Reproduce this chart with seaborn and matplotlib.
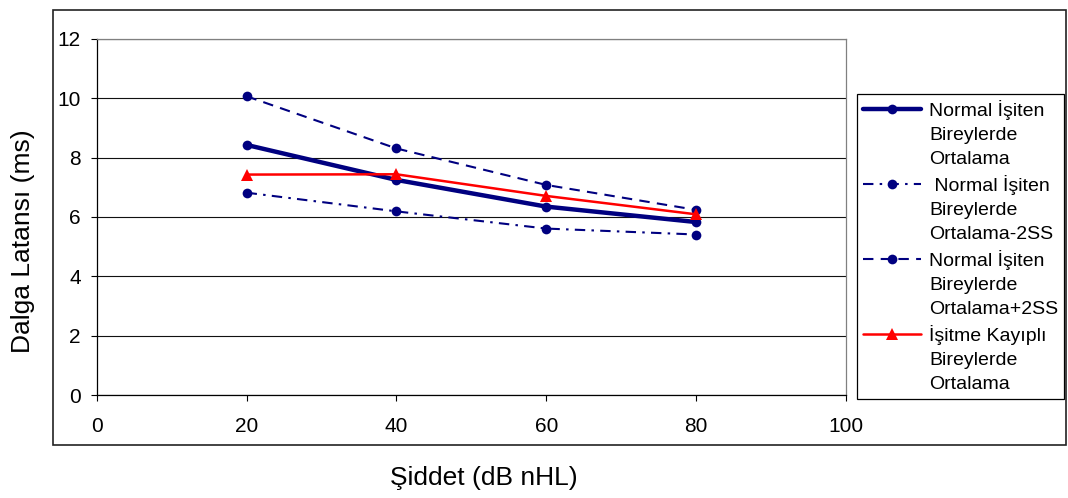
import matplotlib
matplotlib.use("Agg")
import matplotlib.pyplot as plt
import matplotlib.patches as patches
from matplotlib.lines import Line2D
import seaborn as sns
import pandas as pd

# ---- data ----
intensity = [20, 40, 60, 80]
mean_normal = [8.43, 7.25, 6.35, 5.83]
mean_minus_2sd = [6.82, 6.19, 5.61, 5.41]
mean_plus_2sd = [10.07, 8.31, 7.08, 6.24]
mean_hearing_loss = [7.43, 7.44, 6.71, 6.09]

x_ticks = [0, 20, 40, 60, 80, 100]
y_ticks = [0, 2, 4, 6, 8, 10, 12]

legend_lines = [
    ["Normal İşiten", "Bireylerde", "Ortalama"],
    [" Normal İşiten", "Bireylerde", "Ortalama-2SS"],
    ["Normal İşiten", "Bireylerde", "Ortalama+2SS"],
    ["İşitme Kayıplı", "Bireylerde", "Ortalama"],
]
x_label = "Şiddet (dB nHL)"
y_label = "Dalga Latansı (ms)"

navy = "#000080"
red = "#FF0000"

sns.set_style("white")
plt.rcParams["font.family"] = ["Liberation Sans", "DejaVu Sans"]
plt.rcParams["text.color"] = "black"
plt.rcParams["xtick.color"] = "black"
plt.rcParams["ytick.color"] = "black"
plt.rcParams["xtick.labelcolor"] = "black"
plt.rcParams["ytick.labelcolor"] = "black"

W, H = 1068, 498
fig = plt.figure(figsize=(W / 100, H / 100), dpi=100)
ax = fig.add_axes([96.7 / W, 1 - 395 / H, (846 - 96.7) / W, (395 - 39) / H])

df = pd.DataFrame({
    "x": intensity,
    "mean": mean_normal,
    "minus": mean_minus_2sd,
    "plus": mean_plus_2sd,
    "hl": mean_hearing_loss,
})

sns.lineplot(data=df, x="x", y="mean", ax=ax, color=navy, linewidth=3.2,
             marker="o", markersize=7, markeredgecolor=navy,
             markeredgewidth=0, zorder=4)
sns.lineplot(data=df, x="x", y="minus", ax=ax, color=navy, linewidth=1.5,
             linestyle=(0, (5, 3, 1.2, 3)), marker="o", markersize=7,
             markeredgecolor=navy, markeredgewidth=0, zorder=3)
sns.lineplot(data=df, x="x", y="plus", ax=ax, color=navy, linewidth=1.5,
             linestyle=(0, (5, 3.5)), marker="o", markersize=7,
             markeredgecolor=navy, markeredgewidth=0, zorder=3)
sns.lineplot(data=df, x="x", y="hl", ax=ax, color=red, linewidth=1.8,
             marker="^", markersize=9, markeredgecolor=red,
             markeredgewidth=0, zorder=5)

ax.set_xlim(0, 100)
ax.set_ylim(0, 12)
ax.set_xticks(x_ticks)
ax.set_yticks(y_ticks)
ax.set_xlabel("")
ax.set_ylabel("")
ax.yaxis.grid(True, color="#111111", linewidth=0.8)
ax.xaxis.grid(False)
ax.set_axisbelow(True)

for s in ["left", "bottom"]:
    ax.spines[s].set_color("black")
    ax.spines[s].set_linewidth(0.9)
for s in ["top", "right"]:
    ax.spines[s].set_color("#808080")
    ax.spines[s].set_linewidth(0.9)
    ax.spines[s].set_visible(True)

ax.tick_params(axis="x", direction="out", length=4.5, width=0.8, color="black",
               labelcolor="black", labelsize=15, pad=11, bottom=True)
ax.tick_params(axis="y", direction="out", length=4.5, width=0.8, color="black",
               labelcolor="black", labelsize=15, pad=7, left=True)

# axis labels
fig.text(23 / W, 1 - 241 / H, y_label, rotation=90, ha="center", va="center",
         fontsize=19, color="black")
fig.text(484 / W, 1 - 485 / H, x_label, ha="center", va="baseline", fontsize=19,
         color="black")

# legend: one row per text line, handle on the first line of each entry
series_lines = ax.lines[:4]
handles, labels = [], []
for line, texts in zip(series_lines, legend_lines):
    for i, t in enumerate(texts):
        if i == 0:
            handles.append(line)
        else:
            handles.append(Line2D([], [], linestyle="none", marker=None))
        labels.append(t)

leg = ax.legend(handles, labels, loc="upper left",
                bbox_to_anchor=(857 / W, 1 - 94 / H), bbox_transform=fig.transFigure,
                borderaxespad=0, fontsize=14, frameon=True, fancybox=False,
                shadow=False, framealpha=1, edgecolor="black",
                handlelength=3.0, handletextpad=0.4, borderpad=0.3,
                labelspacing=0.34, numpoints=1, labelcolor="black")
leg.get_frame().set_linewidth(0.9)

# outer chart frame
frame = patches.Rectangle((53 / W, 1 - 445 / H), (1066 - 53) / W, (445 - 10) / H,
                          transform=fig.transFigure, fill=False,
                          edgecolor="#222222", linewidth=1.2)
fig.patches.append(frame)

fig.savefig("out.png", dpi=100)
